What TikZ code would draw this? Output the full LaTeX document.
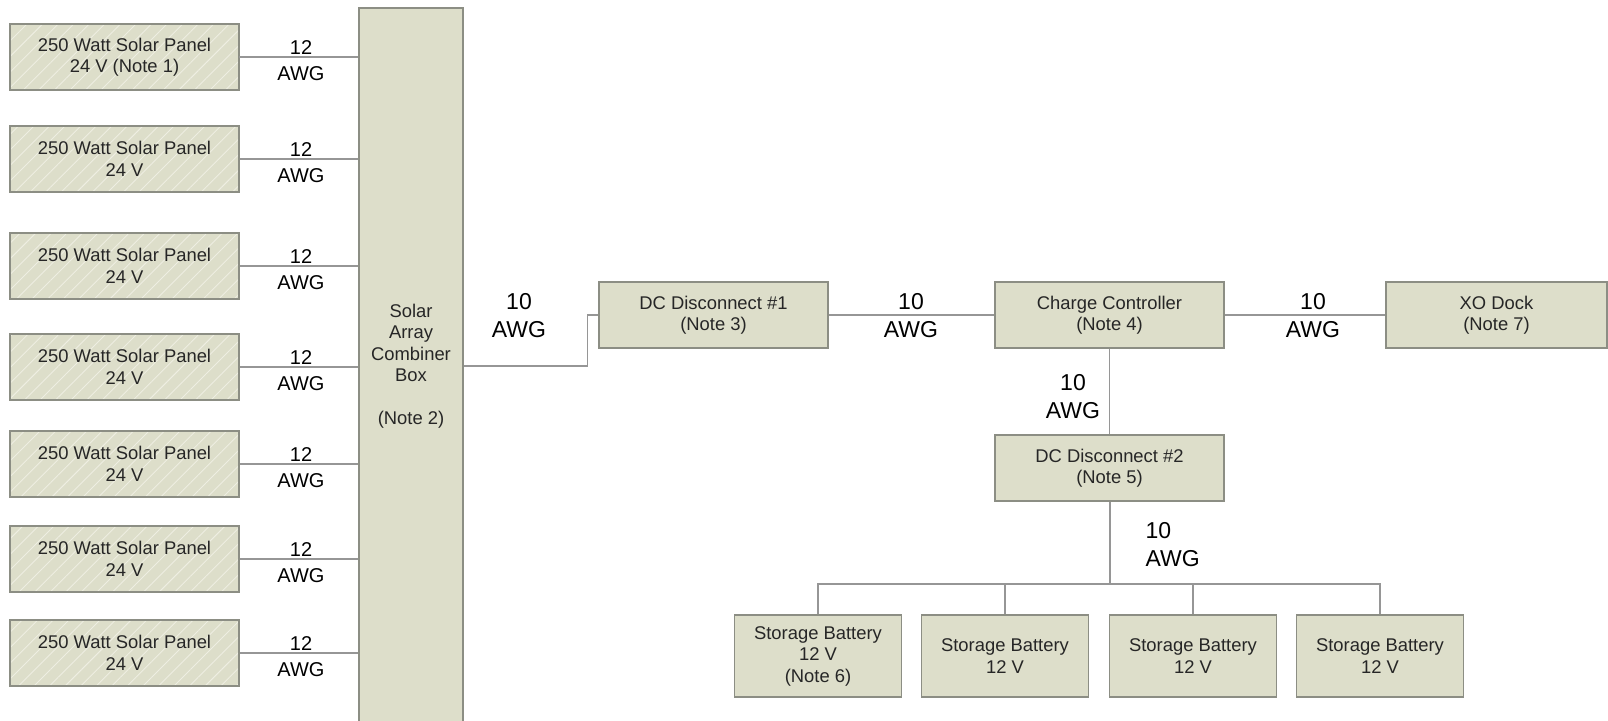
\documentclass[tikz,border=0pt]{standalone}
\usepackage{fontspec}
\setmainfont{Liberation Sans}
\usetikzlibrary{positioning,patterns.meta}
\definecolor{box-fill}{RGB}{221,222,202}
\definecolor{box-line}{RGB}{140,142,132}
\definecolor{wire-grey}{RGB}{150,150,150}
\definecolor{hatch-light}{RGB}{238,238,226}
\tikzset{
  unit/.style={draw=box-line, line width=1.4pt, fill=box-fill, align=center, inner sep=2pt,
    font=\fontsize{18.4}{21.5}\selectfont, text=black!85},
  panel/.style={unit, fill=none, preaction={fill=box-fill},
    pattern={Lines[angle=45,distance=11pt,line width=0.9pt]}, pattern color=hatch-light,
    minimum width=229pt, minimum height=66pt},
  wide/.style={unit, minimum width=229pt, minimum height=66pt},
  battery/.style={unit, minimum width=167pt, minimum height=82pt},
  wire/.style={wire-grey, line width=1.2pt},
  awgsmall/.style={align=center, font=\fontsize{20}{26}\selectfont},
  awgbig/.style={align=center, font=\fontsize{23}{28}\selectfont}
}
\begin{document}
\begin{tikzpicture}[x=1pt,y=-1pt]
\useasboundingbox (0,0) rectangle (1608,720);
%Solarmodule:
\node[panel] (panelA) at (124.5,57) {250 Watt Solar Panel\\24 V (Note 1)};
\node[panel] (panelB) at (124.5,159) {250 Watt Solar Panel\\24 V};
\node[panel] (panelC) at (124.5,266) {250 Watt Solar Panel\\24 V};
\node[panel] (panelD) at (124.5,367) {250 Watt Solar Panel\\24 V};
\node[panel] (panelE) at (124.5,464) {250 Watt Solar Panel\\24 V};
\node[panel] (panelF) at (124.5,559) {250 Watt Solar Panel\\24 V};
\node[panel] (panelG) at (124.5,653) {250 Watt Solar Panel\\24 V};
%Combiner Box:
\node[unit, minimum width=104pt, minimum height=716pt] (combiner) at (411,366)
  {Solar\\Array\\Combiner\\Box\\[21.5pt](Note 2)};
%Leitungen 12 AWG:
\draw[wire] (panelA.east) -- (panelA.east -| combiner.west);
\draw[wire] (panelB.east) -- (panelB.east -| combiner.west);
\draw[wire] (panelC.east) -- (panelC.east -| combiner.west);
\draw[wire] (panelD.east) -- (panelD.east -| combiner.west);
\draw[wire] (panelE.east) -- (panelE.east -| combiner.west);
\draw[wire] (panelF.east) -- (panelF.east -| combiner.west);
\draw[wire] (panelG.east) -- (panelG.east -| combiner.west);
\node[awgsmall] (awgA) at (301,61) {12\\AWG};
\node[awgsmall] (awgB) at (301,163) {12\\AWG};
\node[awgsmall] (awgC) at (301,270) {12\\AWG};
\node[awgsmall] (awgD) at (301,371) {12\\AWG};
\node[awgsmall] (awgE) at (301,468) {12\\AWG};
\node[awgsmall] (awgF) at (301,563) {12\\AWG};
\node[awgsmall] (awgG) at (301,657) {12\\AWG};
%DC-Strang:
\node[wide] (dcA) at (713.5,315) {DC Disconnect \#1\\(Note 3)};
\node[wide] (ctrl) at (1109.5,315) {Charge Controller\\(Note 4)};
\node[unit, minimum width=221pt, minimum height=66pt] (xodock) at (1496.5,315) {XO Dock\\(Note 7)};
\node[wide] (dcB) at (1109.5,468) {DC Disconnect \#2\\(Note 5)};
\draw[wire] (combiner.east) -- ++(124,0) |- (dcA.west);
\draw[wire] (dcA.east) -- (ctrl.west);
\draw[wire] (ctrl.east) -- (xodock.west);
\draw[wire] (ctrl.south) -- (dcB.north);
\node[awgbig] (awgH) at (519,316) {10\\AWG};
\node[awgbig] (awgI) at (911,316) {10\\AWG};
\node[awgbig] (awgJ) at (1313,316) {10\\AWG};
\node[awgbig] (awgK) at (1073,397) {10\\AWG};
\node[awgbig, align=left, anchor=west] (awgL) at (1142,545) {10\\AWG};
%Batterien:
\node[battery] (batA) at (818,656) {Storage Battery\\12 V\\(Note 6)};
\node[battery] (batB) at (1005,656) {Storage Battery\\12 V};
\node[battery] (batC) at (1193,656) {Storage Battery\\12 V};
\node[battery] (batD) at (1380,656) {Storage Battery\\12 V};
\coordinate (bus) at (1110,584);
\draw[wire] (dcB.south -| bus) -- (bus);
\draw[wire] (batA.north) |- (bus) -| (batD.north);
\draw[wire] (batB.north) -- (batB.north |- bus);
\draw[wire] (batC.north) -- (batC.north |- bus);
\end{tikzpicture}
\end{document}
